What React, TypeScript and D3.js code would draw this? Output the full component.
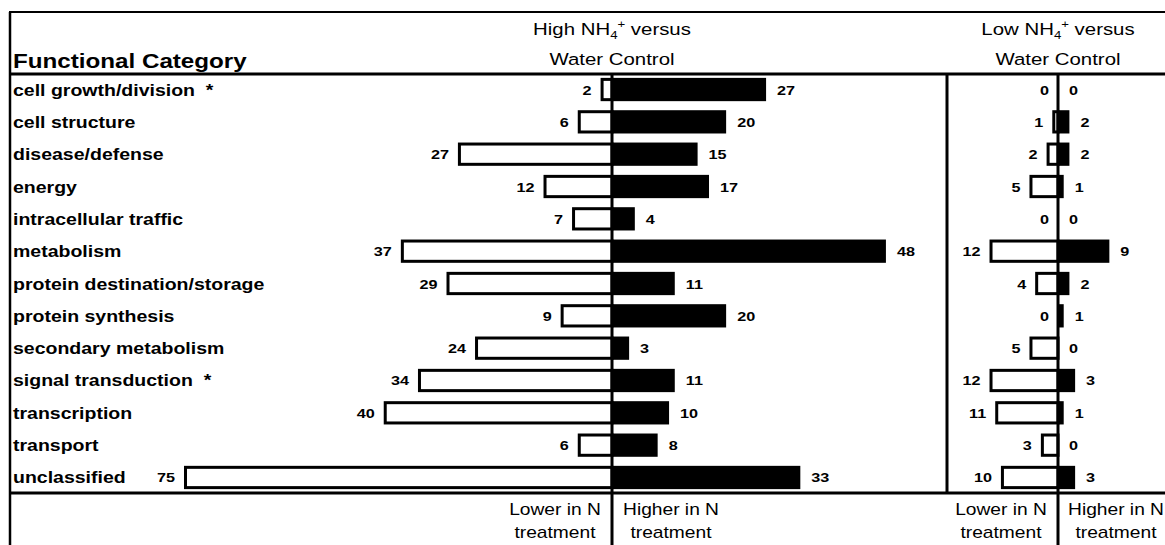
import React from "react";
import * as d3 from "d3";

// functional categories (rows, top to bottom)
const categories = [
  "cell growth/division \u00a0*",
  "cell structure",
  "disease/defense",
  "energy",
  "intracellular traffic",
  "metabolism",
  "protein destination/storage",
  "protein synthesis",
  "secondary metabolism",
  "signal transduction \u00a0*",
  "transcription",
  "transport",
  "unclassified",
];

// High NH4+ versus water control
const highLower = [2, 6, 27, 12, 7, 37, 29, 9, 24, 34, 40, 6, 75];
const highHigher = [27, 20, 15, 17, 4, 48, 11, 20, 3, 11, 10, 8, 33];

// Low NH4+ versus water control
const lowLower = [0, 1, 2, 5, 0, 12, 4, 0, 5, 12, 11, 3, 10];
const lowHigher = [0, 2, 2, 1, 0, 9, 2, 1, 0, 3, 1, 0, 3];

const footerLower = ["Lower in N", "treatment"];
const footerHigher = ["Higher in N", "treatment"];

const W = 1165;
const H = 545;
const FONT = "Arial, 'Liberation Sans', sans-serif";
const SX = 1.2; // the original figure is stretched sideways

// layout
const left = 10;
const topY = 12;
const headY = 74;
const bottomY = 493;
const axisHigh = 612;
const divider = 947;
const axisLow = 1058;

// stretched text helper
const T = ({x, y, sx = SX, size = 16, weight = "normal", anchor = "start", children}: any) => (
  <text
    transform={`translate(${x},${y}) scale(${sx},1)`}
    fontFamily={FONT}
    fontSize={size}
    fontWeight={weight}
    textAnchor={anchor}
    fill="#000"
  >
    {children}
  </text>
);

const Panel = ({center, lower, higher, y, x}: any) => {
  const bw = y.bandwidth();
  return (
    <g>
      {categories.map((c, i) => {
        const top = y(c);
        const lo = lower[i];
        const hi = higher[i];
        const lw = x(lo);
        const hw = x(hi);
        return (
          <g key={c}>
            {lo > 0 && (
              <rect
                x={center - lw + 1.5}
                y={top + 1.5}
                width={Math.max(lw - 1.5, 0)}
                height={bw - 3}
                fill="#fff"
                stroke="#000"
                strokeWidth={3}
              />
            )}
            {hi > 0 && <rect x={center} y={top} width={hw} height={bw} fill="#000" />}
            <T x={center - lw - 9} y={top + bw / 2 + 5} size={13.5} weight="bold" anchor="end">
              {lo}
            </T>
            <T x={center + hw + 11} y={top + bw / 2 + 5} size={13.5} weight="bold">
              {hi}
            </T>
          </g>
        );
      })}
    </g>
  );
};

const Header = ({cx, word}: any) => (
  <g>
    <text
      transform={`translate(${cx},35) scale(${SX},1)`}
      fontFamily={FONT}
      fontSize={17}
      textAnchor="middle"
      fill="#000"
    >
      {word} NH
      <tspan fontSize={11} dy={4}>4</tspan>
      <tspan fontSize={11} dy={-11}>+</tspan>
      <tspan dy={7}> versus</tspan>
    </text>
    <T x={cx} y={65} size={17} anchor="middle">Water Control</T>
  </g>
);

const Footer = ({cx, lines}: any) => (
  <g>
    <T x={cx} y={515} size={16} anchor="middle">{lines[0]}</T>
    <T x={cx} y={538} size={16} anchor="middle">{lines[1]}</T>
  </g>
);

export default function App() {
  const y = d3
    .scaleBand<string>()
    .domain(categories)
    .range([headY, bottomY])
    .paddingInner(0.28)
    .paddingOuter(0.12);

  // same px-per-gene scale for both panels
  const x = d3.scaleLinear().domain([0, 75]).range([0, 428]);

  return (
    <svg width={W} height={H} style={{position: "absolute", left: 0, top: 0, background: "#fff"}}>
      <rect width={W} height={H} fill="#fff" />

      {/* row labels */}
      {categories.map((c) => (
        <T key={c} x={13} y={y(c)! + y.bandwidth() / 2 + 6} size={16} weight="bold" sx={1.22}>
          {c}
        </T>
      ))}

      <T x={13} y={68} size={20.5} weight="bold" sx={1.18}>Functional Category</T>

      <Header cx={axisHigh} word="High" />
      <Header cx={axisLow} word="Low" />

      <Panel center={axisHigh} lower={highLower} higher={highHigher} y={y} x={x} />
      <Panel center={axisLow} lower={lowLower} higher={lowHigher} y={y} x={x} />

      {/* frame lines */}
      <line x1={left - 1} x2={W} y1={topY} y2={topY} stroke="#000" strokeWidth={2} />
      <line x1={left} x2={left} y1={topY} y2={H} stroke="#000" strokeWidth={2.5} />
      <line x1={left - 1} x2={W} y1={headY} y2={headY} stroke="#000" strokeWidth={3} />
      <line x1={left - 1} x2={W} y1={bottomY} y2={bottomY} stroke="#000" strokeWidth={3} />
      <line x1={axisHigh} x2={axisHigh} y1={headY} y2={H} stroke="#000" strokeWidth={3} />
      <line x1={divider} x2={divider} y1={headY} y2={bottomY} stroke="#000" strokeWidth={3} />
      <line x1={axisLow} x2={axisLow} y1={headY} y2={H} stroke="#000" strokeWidth={3} />

      <Footer cx={555} lines={footerLower} />
      <Footer cx={671} lines={footerHigher} />
      <Footer cx={1001} lines={footerLower} />
      <Footer cx={1116} lines={footerHigher} />
    </svg>
  );
}
